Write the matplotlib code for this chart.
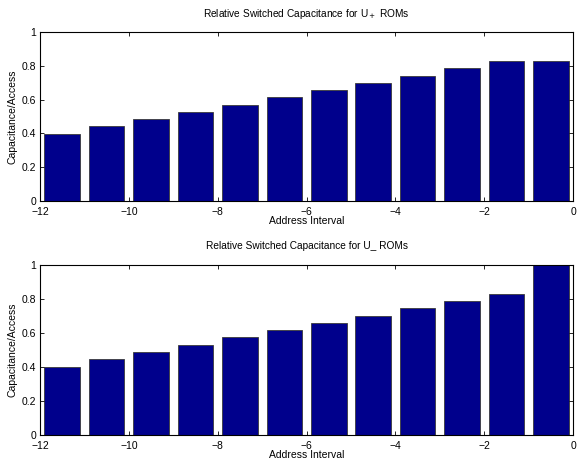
import matplotlib
matplotlib.use("Agg")
import matplotlib.pyplot as plt
from matplotlib.ticker import FuncFormatter

plt.rcParams['font.family'] = ['Liberation Sans', 'DejaVu Sans']

intervals = [-11.5, -10.5, -9.5, -8.5, -7.5, -6.5, -5.5, -4.5, -3.5, -2.5, -1.5, -0.5]
u_plus = [0.398, 0.443, 0.488, 0.529, 0.571, 0.614, 0.658, 0.701, 0.743, 0.787, 0.830, 0.830]
u_minus = [0.400, 0.443, 0.487, 0.530, 0.572, 0.614, 0.659, 0.701, 0.744, 0.786, 0.830, 1.000]
titles = ["Relative Switched Capacitance for U$_+$ ROMs",
          "Relative Switched Capacitance for U_ ROMs"]
xticks = [-12, -10, -8, -6, -4, -2, 0]
yticks = [0, 0.2, 0.4, 0.6, 0.8, 1]

fig = plt.figure(figsize=(5.79, 4.66), dpi=100)
rects = [[0.069, 0.569, 0.921, 0.362], [0.069, 0.067, 0.921, 0.365]]

def fmt_x(v, pos):
    s = "%g" % v
    return s.replace("-", "\u2212")

for rect, vals, title in zip(rects, [u_plus, u_minus], titles):
    ax = fig.add_axes(rect)
    ax.bar(intervals, vals, width=0.8, color="#00008C", edgecolor="#3a3a3a", linewidth=0.6)
    ax.set_xlim(-12, 0)
    ax.set_ylim(0, 1)
    ax.set_xticks(xticks)
    ax.set_yticks(yticks)
    ax.xaxis.set_major_formatter(FuncFormatter(fmt_x))
    ax.yaxis.set_major_formatter(FuncFormatter(lambda v, p: "%g" % v))
    ax.tick_params(direction="in", top=True, right=True, length=3, width=0.6, labelsize=7.5)
    ax.tick_params(axis="x", pad=4.5)
    ax.tick_params(axis="y", pad=2.5)
    for s in ax.spines.values():
        s.set_linewidth(0.8)
    ax.set_title(title, fontsize=7.3, pad=11)
    ax.set_xlabel("Address Interval", fontsize=7.5, labelpad=-0.5)
    ax.set_ylabel("Capacitance/Access", fontsize=7.5, labelpad=3)

fig.savefig("out.png", dpi=100)
